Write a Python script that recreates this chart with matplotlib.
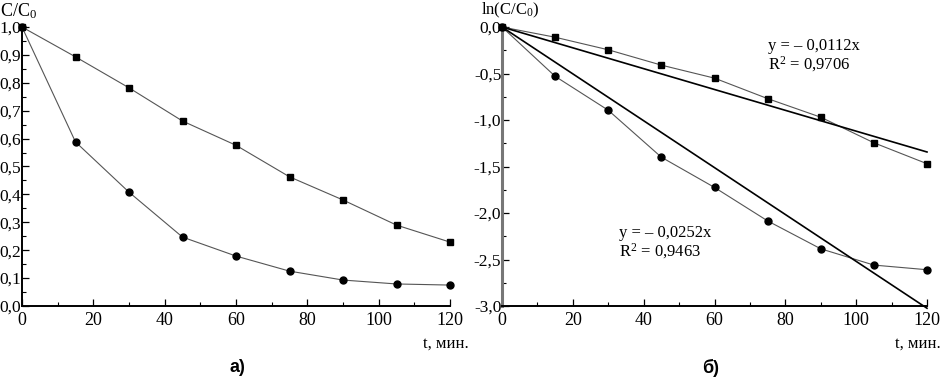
import numpy as np
import matplotlib
matplotlib.use('Agg')
import matplotlib.pyplot as plt
from matplotlib.ticker import MultipleLocator, FuncFormatter

plt.rcParams['font.family'] = ['Liberation Serif', 'DejaVu Serif']
plt.rcParams['mathtext.fontset'] = 'custom'
plt.rcParams['mathtext.rm'] = 'Liberation Serif'
plt.rcParams['mathtext.it'] = 'Liberation Serif:italic'

# time, min
t = [0, 15, 30, 45, 60, 75, 90, 105, 120]
# C/C0
c_sq = [1.0, 0.893, 0.782, 0.663, 0.576, 0.463, 0.380, 0.290, 0.229]
c_ci = [1.0, 0.588, 0.408, 0.247, 0.179, 0.125, 0.093, 0.079, 0.075]
# ln(C/C0)
ln_sq = [0.0, -0.11, -0.245, -0.41, -0.55, -0.77, -0.97, -1.245, -1.47]
ln_ci = [0.0, -0.53, -0.895, -1.40, -1.725, -2.085, -2.385, -2.56, -2.61]
# linear fits through origin
slopes = [-0.0112, -0.0252]
fit_txt = ['y = \u2013 0,0112x\nR$^2$ = 0,9706', 'y = \u2013 0,0252x\nR$^2$ = 0,9463']
fit_pos = [(75, -0.12), (33, -2.13)]

comma = lambda fmt: FuncFormatter(lambda v, p: (fmt % v).replace('.', ',').replace('-0,0', '0,0'))

fig = plt.figure(figsize=(9.43, 3.78), dpi=100)
ax1 = fig.add_axes([22/943, 72/378, 428/943, 279/378])
ax2 = fig.add_axes([502/943, 72/378, 425/943, 279/378])

def style(ax):
    for s in ['top', 'right']:
        ax.spines[s].set_visible(False)
    ax.spines['bottom'].set_linewidth(1.4)
    ax.spines['left'].set_linewidth(1.4)
    ax.set_xlim(0, 120)
    ax.xaxis.set_major_locator(MultipleLocator(20))
    ax.xaxis.set_minor_locator(MultipleLocator(10))
    ax.tick_params(which='both', direction='in', labelsize=13)
    ax.tick_params(which='major', length=5, width=0.9)
    ax.tick_params(which='minor', length=3, width=0.8)
    ax.tick_params(axis='x', pad=4)
    ax.tick_params(axis='y', pad=0.5, labelsize=12.5)

lc = '#555555'
mk = dict(color='black', ms=5, clip_on=False, zorder=5)

# a)
style(ax1)
ax1.set_ylim(0, 1.0)
ax1.yaxis.set_major_locator(MultipleLocator(0.1))
ax1.yaxis.set_minor_locator(MultipleLocator(0.05))
ax1.yaxis.set_major_formatter(comma('%.1f'))
ax1.plot(t, c_sq, '-', color=lc, lw=0.8, clip_on=False)
ax1.plot(t, c_ci, '-', color=lc, lw=0.8, clip_on=False)
ax1.plot(t, c_sq, 's', **mk)
ax1.plot(t, c_ci, 'o', **mk)

# б)
style(ax2)
ax2.spines['left'].set_color('#777777')
ax2.spines['left'].set_linewidth(2.2)
ax2.set_ylim(-3.0, 0.0)
ax2.yaxis.set_major_locator(MultipleLocator(0.5))
ax2.yaxis.set_minor_locator(MultipleLocator(0.25))
ax2.yaxis.set_major_formatter(comma('%.1f'))
ax2.plot(t, ln_sq, '-', color=lc, lw=0.8, clip_on=False)
ax2.plot(t, ln_ci, '-', color=lc, lw=0.8, clip_on=False)
xf = np.array([0, 120])
for k, txt, (px, py) in zip(slopes, fit_txt, fit_pos):
    ax2.plot(xf, k*xf, '-', color='black', lw=1.2, clip_on=False)
    ax2.text(px, py, txt, fontsize=12, va='top', ha='left', linespacing=1.0)
ax2.plot(t, ln_sq, 's', **mk)
ax2.plot(t, ln_ci, 'o', **mk)

fig.text(0/943, 1-1/378, 'C/C$_0$', fontsize=13, va='top', ha='left')
fig.text(481/943, 1-1/378, 'ln(C/C$_0$)', fontsize=12, va='top', ha='left')
fig.text(469/943, 1-336/378, 't, \u043c\u0438\u043d.', fontsize=12, va='top', ha='right')
fig.text(941/943, 1-336/378, 't, \u043c\u0438\u043d.', fontsize=12, va='top', ha='right')
fig.text(237/943, 1-359/378, '\u0430)', fontsize=13, va='top', ha='center',
         family='Liberation Sans', weight='bold')
fig.text(711/943, 1-359/378, '\u0431)', fontsize=13, va='top', ha='center',
         family='Liberation Sans', weight='bold')

fig.savefig('out.png', dpi=100)
